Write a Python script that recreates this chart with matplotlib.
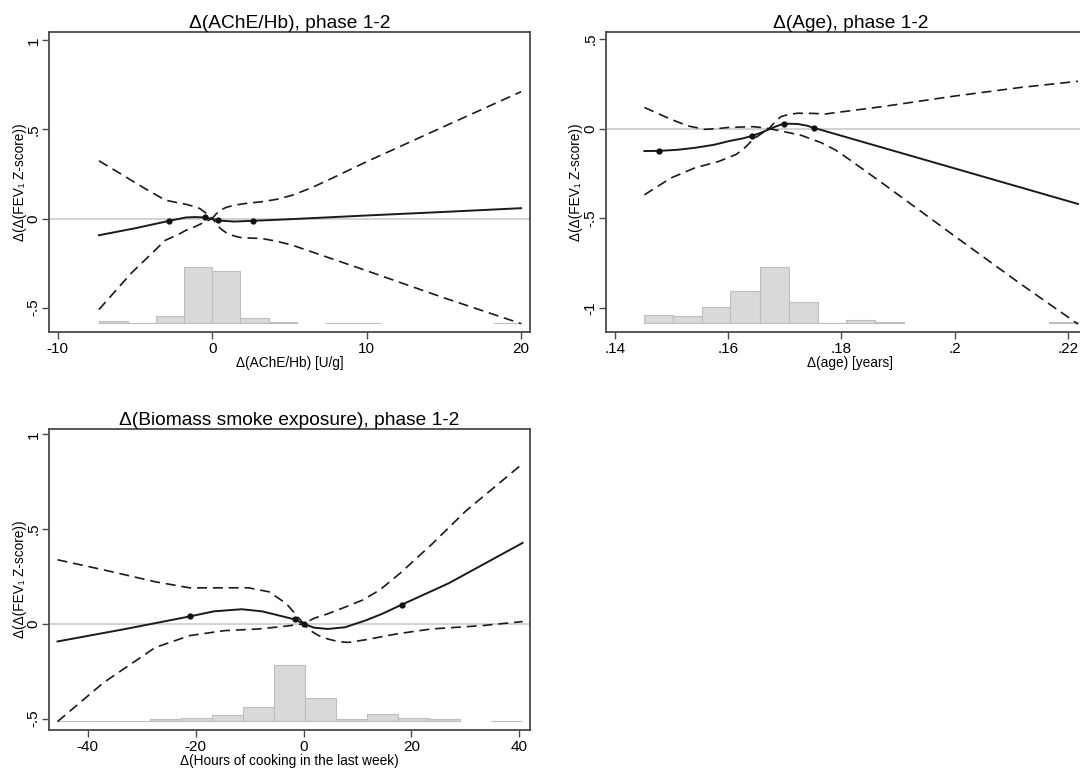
import matplotlib
matplotlib.use("Agg")
import matplotlib.pyplot as plt, numpy as np

plt.rcParams["font.family"] = ["Liberation Sans", "DejaVu Sans"]

# ---- panel 1: delta AChE/Hb ----
ache_fit_x = [-7.33, -5.0, -2.78, -1.69, -1.1, -0.49, 0.0, 0.40, 1.43, 2.63, 5.0, 10.0, 15.0, 20.0]
ache_fit_y = [-0.094, -0.055, -0.013, 0.006, 0.008, 0.006, -0.002, -0.011, -0.017, -0.013, -0.004, 0.017, 0.037, 0.058]
ache_knot_x = [-2.78, -0.49, 0.40, 2.63]
ache_knot_y = [-0.013, 0.006, -0.011, -0.013]
ache_up_x = [-7.33, -6.0, -4.5, -3.03, -2.2, -1.69, -1.2, -0.8, -0.36, 0.0,
             0.25, 0.53, 0.9, 1.43, 2.3, 3.2, 4.2, 5.2, 6.5, 8.0, 10.0, 15.0, 20.0]
ache_up_y = [0.324, 0.255, 0.176, 0.103, 0.088, 0.080, 0.068, 0.056, 0.028, 0.0,
             0.025, 0.047, 0.062, 0.075, 0.086, 0.094, 0.108, 0.131, 0.175, 0.236, 0.319, 0.516, 0.712]
ache_lo_x = [-7.33, -5.26, -3.03, -2.2, -1.69, -1.1, -0.58, 0.0,
             0.3, 0.53, 0.98, 1.5, 1.87, 2.5, 3.2, 4.2, 5.2, 10.0, 15.0, 20.0]
ache_lo_y = [-0.511, -0.309, -0.122, -0.09, -0.066, -0.045, -0.024, 0.0,
             -0.03, -0.056, -0.084, -0.100, -0.107, -0.110, -0.112, -0.128, -0.15, -0.293, -0.445, -0.59]
ache_edges = [-7.30, -5.48, -3.65, -1.83, 0.00, 1.82, 3.65, 5.47, 7.29, 9.12, 10.94, 12.76, 14.59, 16.41, 18.23, 20.05]
ache_hist = [0.013, 0.002, 0.041, 0.314, 0.296, 0.028, 0.007, 0, 0.002, 0.003, 0, 0, 0, 0, 0.002]
ache_base = -0.588

# ---- panel 2: delta age ----
age_fit_x = [0.1452, 0.1478, 0.1510, 0.1541, 0.1575, 0.1602, 0.1625, 0.1642, 0.1660, 0.1672,
             0.1685, 0.1698, 0.1723, 0.1740, 0.1752, 0.2218]
age_fit_y = [-0.125, -0.124, -0.118, -0.107, -0.09, -0.069, -0.055, -0.041, -0.02, -0.004,
             0.013, 0.028, 0.026, 0.016, 0.004, -0.42]
age_knot_x = [0.1478, 0.1642, 0.1698, 0.1752]
age_knot_y = [-0.124, -0.041, 0.028, 0.004]
age_up_x = [0.1452, 0.1499, 0.1529, 0.1559, 0.1580, 0.1602, 0.1644, 0.1660, 0.1672,
            0.1682, 0.1693, 0.1708, 0.1723, 0.1750, 0.1772, 0.1875, 0.1996, 0.2117, 0.2218]
age_up_y = [0.118, 0.052, 0.015, -0.004, 0.0, 0.007, 0.011, 0.006, 0.0,
            0.035, 0.067, 0.08, 0.086, 0.085, 0.082, 0.124, 0.18, 0.23, 0.264]
age_lo_x = [0.1452, 0.1499, 0.1541, 0.1584, 0.1614, 0.1630, 0.1644, 0.1660, 0.1672,
            0.1693, 0.1729, 0.1765, 0.1790, 0.1814, 0.1875, 0.1996, 0.2117, 0.2218]
age_lo_y = [-0.369, -0.275, -0.219, -0.182, -0.144, -0.105, -0.06, -0.025, 0.0,
            -0.013, -0.037, -0.079, -0.12, -0.172, -0.31, -0.59, -0.867, -1.09]
age_edges = [0.1451, 0.1502, 0.1553, 0.1604, 0.1656, 0.1707, 0.1758, 0.1809, 0.1860, 0.1911,
             0.1962, 0.2013, 0.2065, 0.2116, 0.2167, 0.2218]
age_hist = [0.043, 0.039, 0.091, 0.180, 0.312, 0.119, 0.003, 0.018, 0.004, 0, 0, 0, 0, 0, 0.004]
age_base = -1.085

# ---- panel 3: delta biomass smoke exposure ----
bio_fit_x = [-45.6, -33.0, -21.1, -16.6, -11.5, -7.7, -3.84, -1.6, 0.0, 1.92, 4.5, 7.7, 11.5, 14.5, 18.2, 26.9, 40.6]
bio_fit_y = [-0.093, -0.027, 0.039, 0.066, 0.077, 0.066, 0.039, 0.023, 0.0, -0.02, -0.027, -0.018, 0.018, 0.052, 0.101, 0.214, 0.427]
bio_knot_x = [-21.1, -1.6, 0.0, 18.2]
bio_knot_y = [0.039, 0.023, 0.0, 0.101]
bio_up_x = [-45.6, -37.1, -27.5, -21.1, -14.7, -10.2, -6.4, -3.2, -1.28, 0.0,
            2.0, 4.5, 7.7, 10.9, 14.1, 17.9, 23.7, 30.1, 40.6]
bio_up_y = [0.338, 0.285, 0.222, 0.19, 0.19, 0.19, 0.169, 0.107, 0.044, 0.0,
            0.03, 0.053, 0.088, 0.125, 0.178, 0.267, 0.418, 0.596, 0.845]
bio_lo_x = [-45.6, -37.1, -27.5, -21.1, -14.7, -8.3, -3.2, 0.0,
            1.28, 2.8, 4.5, 6.5, 8.3, 11.5, 17.3, 23.7, 33.3, 40.6]
bio_lo_y = [-0.516, -0.311, -0.125, -0.062, -0.036, -0.027, -0.012, 0.0,
            -0.036, -0.062, -0.08, -0.094, -0.098, -0.084, -0.053, -0.027, -0.009, 0.012]
bio_edges = [-45.63, -39.89, -34.15, -28.41, -22.68, -16.94, -11.20, -5.46, 0.28, 6.02,
             11.76, 17.49, 23.23, 28.97, 34.71, 40.44]
bio_hist = [0.002, 0.001, 0.002, 0.009, 0.016, 0.033, 0.074, 0.296, 0.121, 0.011, 0.035, 0.016, 0.011, 0, 0.002]
bio_base = -0.513

ylab = "Δ(Δ(FEV₁ Z-score))"
SPINE = "#4a4a4a"


def panel(ax, fx, fy, kx, ky, ux, uy, lx, ly, edges, hist, base,
          title, xlabel, xlim, ylim, xt, xtl, yt, ytl, ylab_x):
    e = np.array(edges); h = np.array(hist); m = h > 0
    ax.bar(e[:-1][m], h[m], width=np.diff(e)[m], bottom=base, align="edge",
           color="#d9d9d9", edgecolor="#bdbdbd", linewidth=0.8, zorder=1)
    ax.axhline(0, color="#cfcfcf", lw=1.3, zorder=2)
    ax.plot(ux, uy, color="#1a1a1a", lw=1.2, ls=(0, (6, 3.5)), zorder=3)
    ax.plot(lx, ly, color="#1a1a1a", lw=1.2, ls=(0, (6, 3.5)), zorder=3)
    ax.plot(fx, fy, color="#1a1a1a", lw=1.4, zorder=4)
    ax.plot(kx, ky, "o", color="#111111", ms=3.5, zorder=5)
    ax.set_xlim(*xlim); ax.set_ylim(*ylim)
    ax.set_xticks(xt); ax.set_xticklabels(xtl, fontsize=11)
    ax.set_yticks(yt); ax.set_yticklabels(ytl, fontsize=11, rotation=90, va="center")
    ax.tick_params(direction="out", length=5, width=1, color=SPINE, pad=2)
    ax.tick_params(axis="y", pad=1)
    for s in ax.spines.values():
        s.set_color(SPINE); s.set_linewidth(1.3)
    ax.set_title(title, fontsize=13.8, pad=3)
    ax.set_xlabel(xlabel, fontsize=9.8, labelpad=0)
    ax.set_ylabel(ylab, fontsize=9.8)
    ax.yaxis.set_label_coords(ylab_x, 0.5)


fig = plt.figure(figsize=(10.8, 7.71), dpi=100)
ax1 = fig.add_axes([0.0454, 0.5694, 0.4454, 0.3891])
ax2 = fig.add_axes([0.5608, 0.5694, 0.4531, 0.3891])
ax3 = fig.add_axes([0.0454, 0.0532, 0.4454, 0.3904])

panel(ax1, ache_fit_x, ache_fit_y, ache_knot_x, ache_knot_y, ache_up_x, ache_up_y,
      ache_lo_x, ache_lo_y, ache_edges, ache_hist, ache_base,
      "Δ(AChE/Hb), phase 1-2", "Δ(AChE/Hb) [U/g]", (-10.56, 20.58), (-0.637, 1.047),
      [-10, 0, 10, 20], ["-10", "0", "10", "20"], [-0.5, 0, 0.5, 1], ["-.5", "0", ".5", "1"], -0.046)
panel(ax2, age_fit_x, age_fit_y, age_knot_x, age_knot_y, age_up_x, age_up_y,
      age_lo_x, age_lo_y, age_edges, age_hist, age_base,
      "Δ(Age), phase 1-2", "Δ(age) [years]", (0.13836, 0.2248), (-1.134, 0.539),
      [0.14, 0.16, 0.18, 0.2, 0.22], [".14", ".16", ".18", ".2", ".22"],
      [-1, -0.5, 0, 0.5], ["-1", "-.5", "0", ".5"], -0.047)
panel(ax3, bio_fit_x, bio_fit_y, bio_knot_x, bio_knot_y, bio_up_x, bio_up_y,
      bio_lo_x, bio_lo_y, bio_edges, bio_hist, bio_base,
      "Δ(Biomass smoke exposure), phase 1-2", "Δ(Hours of cooking in the last week)",
      (-47.17, 41.98), (-0.560, 1.028),
      [-40, -20, 0, 20, 40], ["-40", "-20", "0", "20", "40"], [-0.5, 0, 0.5, 1], ["-.5", "0", ".5", "1"], -0.046)

fig.savefig("out.png", dpi=100)
